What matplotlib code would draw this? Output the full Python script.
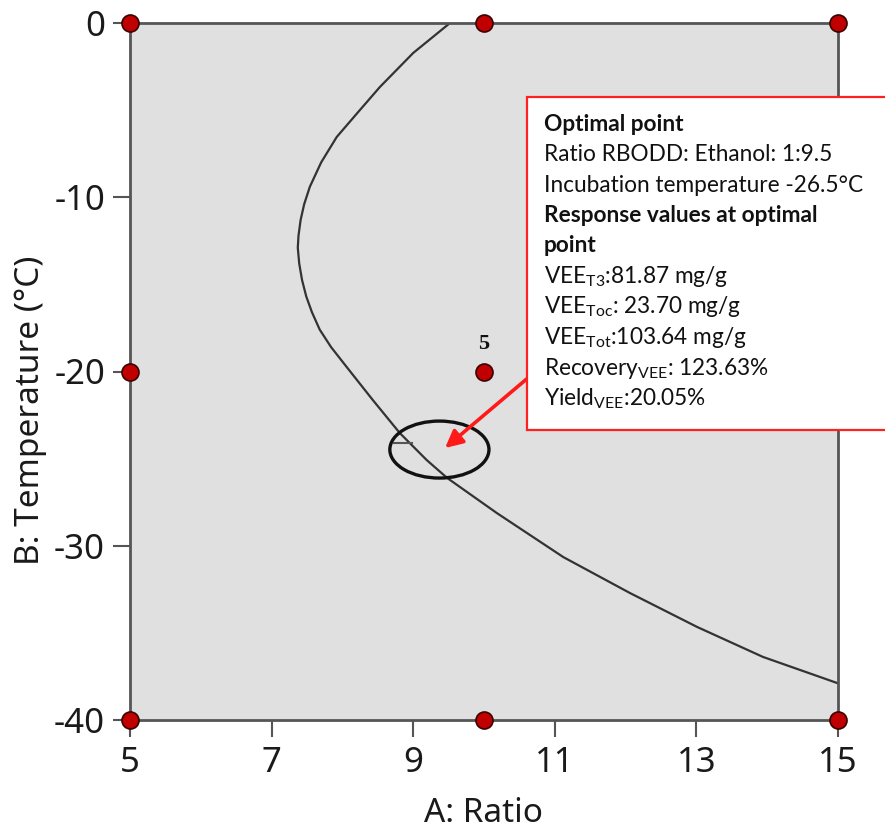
import matplotlib
matplotlib.use("Agg")
import matplotlib.pyplot as plt
from matplotlib.patches import Ellipse, Rectangle

plt.rcParams['mathtext.fontset'] = 'custom'
plt.rcParams['mathtext.rm'] = 'Lato'
plt.rcParams['mathtext.bf'] = 'Lato:bold'

# ---------------- data ----------------
design_ratio = [5, 10, 15, 5, 10, 15, 5, 10, 15]
design_temp = [0, 0, 0, -20, -20, -20, -40, -40, -40]

curve_ratio = [9.52, 9.00, 8.53, 8.21, 7.92, 7.70, 7.54, 7.46, 7.41, 7.38, 7.37, 7.39,
               7.43, 7.49, 7.57, 7.68, 7.84, 8.06, 8.43, 8.81, 9.19, 9.48, 10.18,
               11.12, 12.06, 13.01, 13.94, 14.99, 15.2]
curve_temp = [0.0, -1.72, -3.67, -5.17, -6.54, -8.0, -9.4, -10.4, -11.3, -12.2,
              -12.9, -13.8, -14.75, -15.7, -16.6, -17.6, -18.6, -19.74, -21.64,
              -23.53, -25.08, -26.11, -28.12, -30.65, -32.71, -34.66, -36.38,
              -37.88, -38.1]

opt_center = (9.37, -24.48)
opt_width = 1.40
opt_height = 3.27

arrow_tip = (9.45, -24.39)
arrow_start = (10.62, -20.37)

label5_pos = (10, -18.4)

xticks = [5, 7, 9, 11, 13, 15]
yticks = [0, -10, -20, -30, -40]

box_lines = [
    ("Optimal point", "bold"),
    ("Ratio RBODD: Ethanol: 1:9.5", "normal"),
    ("Incubation temperature -26.5\u00b0C", "normal"),
    ("Response values at optimal", "bold"),
    ("point", "bold"),
    (r"VEE$_{\mathrm{T3}}$:81.87 mg/g", "normal"),
    (r"VEE$_{\mathrm{Toc}}$: 23.70 mg/g", "normal"),
    (r"VEE$_{\mathrm{Tot}}$:103.64 mg/g", "normal"),
    (r"Recovery$_{\mathrm{VEE}}$: 123.63%", "normal"),
    (r"Yield$_{\mathrm{VEE}}$:20.05%", "normal"),
]

# ---------------- figure ----------------
W, H = 885, 834
fig = plt.figure(figsize=(W / 100, H / 100), dpi=100)
ax = fig.add_axes([130 / W, 1 - 720 / H, 708 / W, 697 / H])
ax.set_facecolor('#e0e0e0')
ax.set_xlim(5, 15)
ax.set_ylim(-40, 0)

for s in ax.spines.values():
    s.set_color('#555555')
    s.set_linewidth(2)

ax.plot(curve_ratio, curve_temp, color='#333333', lw=1.6, zorder=2)

ell = Ellipse(opt_center, opt_width, opt_height, fill=False, ec='#111111', lw=2.4, zorder=3)
ax.add_patch(ell)
ax.plot([8.73, 8.99], [-24.1, -24.1], color='#555555', lw=1.5, zorder=3)

ax.scatter(design_ratio, design_temp, s=150, c='#c00000', edgecolors='#3a0000',
           linewidths=1.2, zorder=6, clip_on=False)

ax.text(label5_pos[0], label5_pos[1], "5", family='Liberation Serif', fontsize=16,
        fontweight='bold', ha='center', va='center', color='#111111', zorder=6)

ax.annotate("", xy=arrow_tip, xytext=arrow_start,
            arrowprops=dict(arrowstyle='-|>', color='#ff1a1a', lw=2.6,
                            mutation_scale=26, shrinkA=0, shrinkB=0), zorder=7)

ax.set_xticks(xticks)
ax.set_yticks(yticks)
ax.set_xticklabels([str(v) for v in xticks])
ax.set_yticklabels([str(v) for v in yticks])
ax.tick_params(axis='both', direction='out', length=12, width=1.5, color='#555555',
               labelsize=25, labelcolor='#1a1a1a')
ax.tick_params(axis='x', pad=7)
ax.tick_params(axis='y', pad=6)
for lab in ax.get_xticklabels() + ax.get_yticklabels():
    lab.set_family('Noto Sans')

ax.set_xlabel("A: Ratio", fontsize=24, family='Noto Sans', color='#1a1a1a')
ax.set_ylabel("B: Temperature (\u00b0C)", fontsize=24, family='Noto Sans', color='#1a1a1a')
ax.xaxis.set_label_coords(0.5, -0.11)
ax.yaxis.set_label_coords(-0.117, 0.445)

# ---------------- annotation box ----------------
box = Rectangle((527 / W, 1 - 430 / H), 400 / W, 333 / H, transform=fig.transFigure,
                fc='white', ec='#ff2020', lw=1.6, zorder=10)
fig.patches.append(box)

baselines = [131, 161, 192, 222, 252, 283, 313, 344, 375, 405]
for (txt, wt), yb in zip(box_lines, baselines):
    fig.text(544 / W, 1 - yb / H, txt, family='Lato', fontsize=16.3, fontweight=wt,
             ha='left', va='baseline', color='#111111', zorder=11)

fig.savefig("out.png", dpi=100, facecolor='white')
